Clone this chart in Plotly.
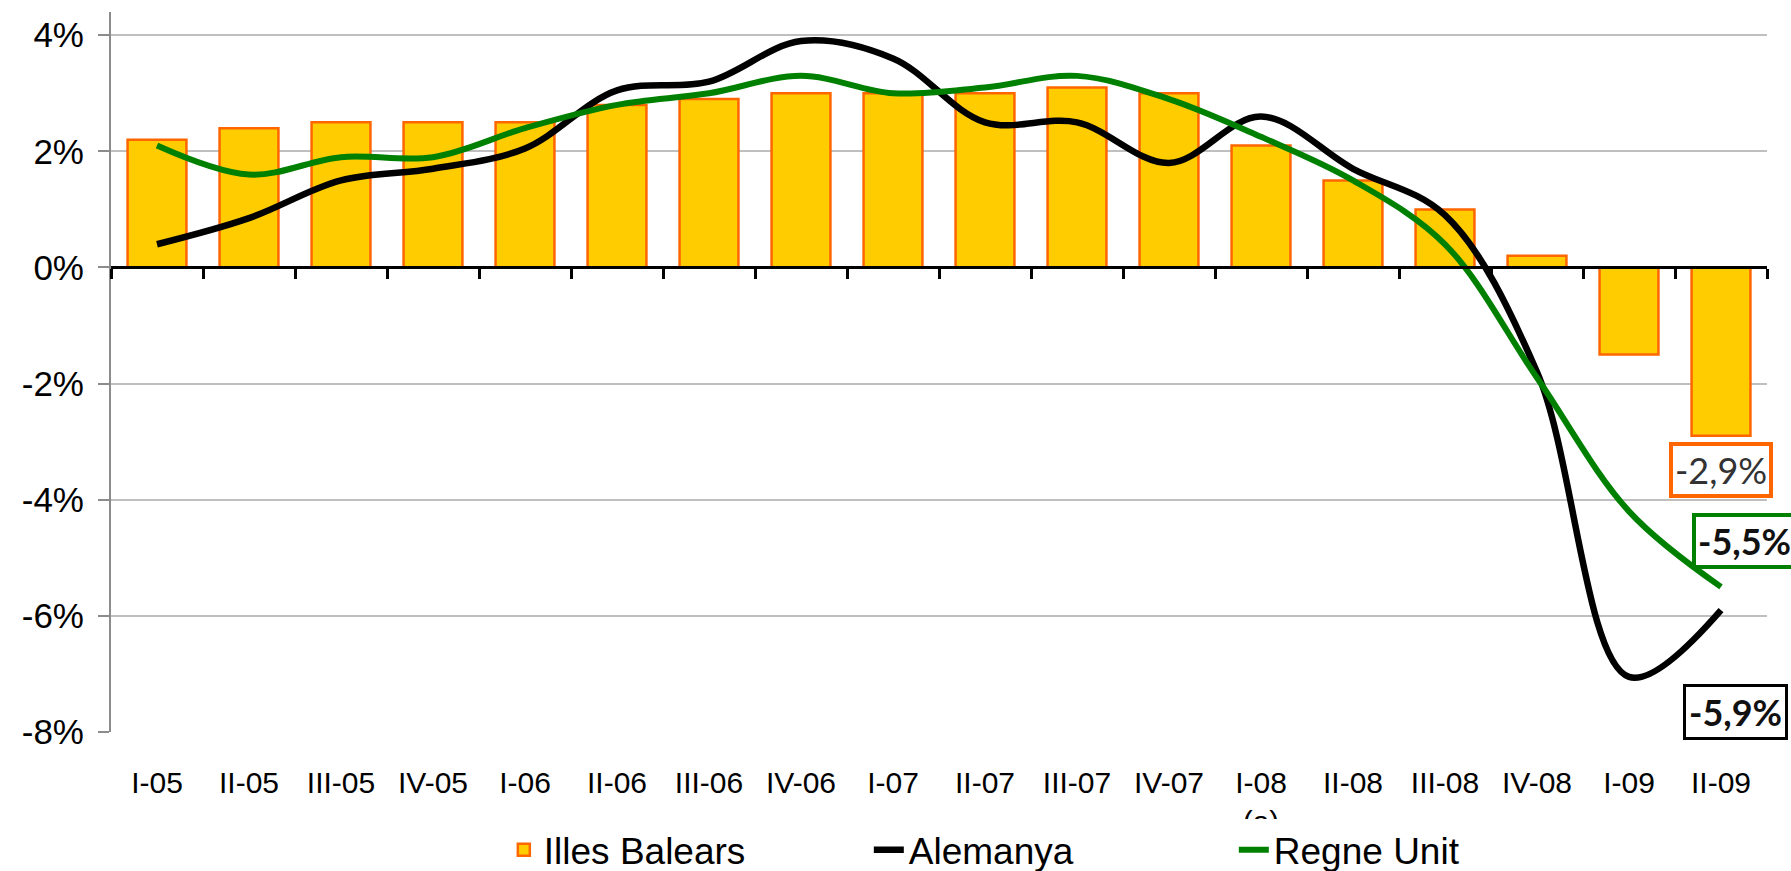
import plotly.graph_objects as go

categories = ["I-05", "II-05", "III-05", "IV-05", "I-06", "II-06", "III-06", "IV-06",
              "I-07", "II-07", "III-07", "IV-07", "I-08", "II-08", "III-08", "IV-08",
              "I-09", "II-09"]
tick_labels = ["I-05", "II-05", "III-05", "IV-05", "I-06", "II-06", "III-06", "IV-06",
               "I-07", "II-07", "III-07", "IV-07", "I-08<br>(a)", "II-08", "III-08", "IV-08",
               "I-09", "II-09"]
illes_balears = [2.2, 2.4, 2.5, 2.5, 2.5, 2.8, 2.9, 3.0, 3.0, 3.0, 3.1, 3.0,
                 2.1, 1.5, 1.0, 0.2, -1.5, -2.9]
alemanya = [0.4, 0.85, 1.5, 1.7, 2.05, 3.05, 3.2, 3.9, 3.6, 2.5, 2.5, 1.8,
            2.6, 1.7, 0.9, -1.8, -7.05, -5.9]
regne_unit = [2.1, 1.6, 1.9, 1.9, 2.4, 2.8, 3.0, 3.3, 3.0, 3.1, 3.3, 2.9,
              2.25, 1.5, 0.4, -1.9, -4.2, -5.5]
y_ticks = [-8, -6, -4, -2, 0, 2, 4]
y_tick_labels = ["-8%", "-6%", "-4%", "-2%", "0%", "2%", "4%"]

Y_MIN, Y_MAX = -8, 4.4


def pct(v):
    return f"{v:.1f}%".replace(".", ",")


fig = go.Figure()
fig.add_trace(go.Bar(
    x=categories, y=illes_balears, name="Illes Balears",
    marker=dict(color="#FFCC00", line=dict(color="#FF6600", width=2.5)),
))
fig.add_trace(go.Scatter(
    x=categories, y=alemanya, name="Alemanya", mode="lines",
    line=dict(color="#000000", width=6.5, shape="spline", smoothing=1.0),
))
fig.add_trace(go.Scatter(
    x=categories, y=regne_unit, name="Regne Unit", mode="lines",
    line=dict(color="#008000", width=6, shape="spline", smoothing=1.0),
))
# invisible helper trace for the zero-crossing category axis (tick marks)
fig.add_trace(go.Scatter(
    x=categories, y=illes_balears, xaxis="x2", mode="markers",
    marker=dict(opacity=0), showlegend=False, hoverinfo="skip",
))

ann_font = "Lato, Open Sans, sans-serif"
fig.add_annotation(
    x=categories[-1], y=illes_balears[-1], text=pct(illes_balears[-1]),
    showarrow=False, xanchor="center", yanchor="top", yshift=-6,
    bordercolor="#FF6600", borderwidth=4, borderpad=2, bgcolor="white",
    font=dict(family=ann_font, size=36, color="#333333"),
)
fig.add_annotation(
    x=categories[-1], y=regne_unit[-1], text="<b>" + pct(regne_unit[-1]) + "</b>",
    showarrow=False, xanchor="left", yanchor="bottom", xshift=-29, yshift=18,
    bordercolor="#008000", borderwidth=4, borderpad=2, bgcolor="white",
    font=dict(family=ann_font, size=36, color="#111111"),
)
fig.add_annotation(
    x=categories[-1], y=alemanya[-1], text="<b>" + pct(alemanya[-1]) + "</b>",
    showarrow=False, xanchor="center", yanchor="top", xshift=14, yshift=-74,
    bordercolor="#000000", borderwidth=3, borderpad=3, bgcolor="white",
    font=dict(family=ann_font, size=36, color="#111111"),
)

zero_pos = (0 - Y_MIN) / (Y_MAX - Y_MIN)

fig.update_layout(
    width=1791, height=871,
    margin=dict(l=111, r=24, t=12, b=139, autoexpand=False),
    paper_bgcolor="white", plot_bgcolor="white",
    bargap=0.36,
    font=dict(family="Arial, Liberation Sans, sans-serif", color="#000000"),
    xaxis=dict(
        type="category", categoryorder="array", categoryarray=categories,
        range=[-0.5, len(categories) - 0.5], automargin=False,
        tickvals=categories, ticktext=tick_labels,
        tickfont=dict(size=30), ticks="", showline=False, showgrid=False,
        ticklabelstandoff=30,
    ),
    xaxis2=dict(
        type="category", categoryorder="array", categoryarray=categories,
        range=[-0.5, len(categories) - 0.5], automargin=False,
        overlaying="x", anchor="free", position=zero_pos,
        showline=True, linecolor="#000000", linewidth=2.5,
        ticks="outside", tickson="boundaries", ticklen=10, tickwidth=2.5,
        tickcolor="#000000", showticklabels=False, showgrid=False,
    ),
    yaxis=dict(
        range=[Y_MIN, Y_MAX], tickvals=y_ticks, ticktext=y_tick_labels,
        automargin=False,
        tickfont=dict(size=35), showgrid=True, gridcolor="#BFBFBF", gridwidth=1.5,
        zeroline=False, showline=True, linecolor="#8C8C8C", linewidth=2,
        ticks="outside", ticklen=11, tickwidth=2, tickcolor="#8C8C8C",
        ticklabelstandoff=7,
    ),
    legend=dict(
        orientation="h", xref="container", yref="container",
        x=0.587, xanchor="center", y=0.024, yanchor="middle",
        font=dict(size=37), bgcolor="white",
        entrywidth=320, entrywidthmode="pixels",
    ),
    showlegend=True,
)

fig.write_html("out.html", config={"displayModeBar": False},
               post_script="document.body.style.margin='0';")
